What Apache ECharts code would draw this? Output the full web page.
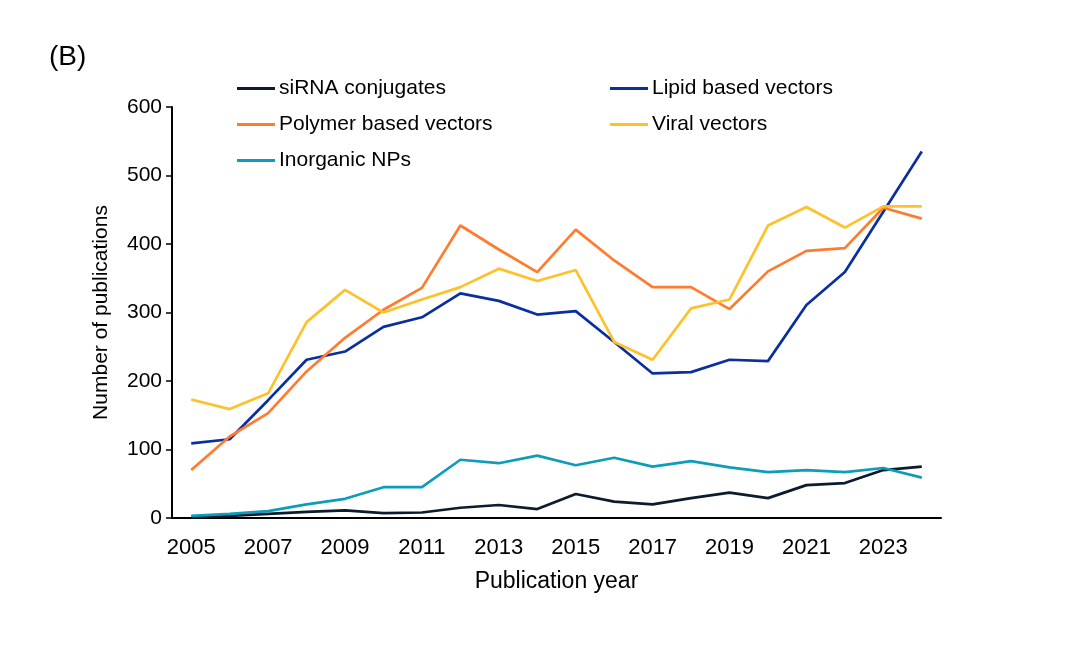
<!DOCTYPE html>
<html>
<head>
<meta charset="utf-8">
<script src="https://cdn.jsdelivr.net/npm/echarts@6/dist/echarts.min.js"></script>
<style>
  html, body { margin: 0; padding: 0; background: #fff; }
  #chart { width: 1080px; height: 648px; }
</style>
</head>
<body>
<div id="chart"></div>
<script>
const years = ['2005','2006','2007','2008','2009','2010','2011','2012','2013','2014',
               '2015','2016','2017','2018','2019','2020','2021','2022','2023','2024'];

const sirna     = [1, 3, 6, 9, 11, 7, 8, 15, 19, 13, 35, 24, 20, 29, 37, 29, 48, 51, 70, 75];
const lipid     = [109, 115, 172, 231, 243, 279, 293, 328, 317, 297, 302, 257, 211, 213, 231, 229, 311, 359, 447, 535];
const polymer   = [70, 119, 153, 214, 263, 304, 336, 427, 392, 359, 421, 376, 337, 337, 305, 360, 390, 394, 453, 437];
const viral     = [173, 159, 182, 286, 333, 300, 319, 337, 364, 346, 362, 257, 231, 306, 319, 427, 454, 424, 455, 455];
const inorganic = [3, 6, 10, 20, 28, 45, 45, 85, 80, 91, 77, 88, 75, 83, 74, 67, 70, 67, 73, 59];

const seriesDefs = [
  { name: 'siRNA conjugates',       data: sirna,     color: '#0c1c2e' },
  { name: 'Lipid based vectors',    data: lipid,     color: '#0a2f9e' },
  { name: 'Polymer based vectors',  data: polymer,   color: '#ff7b2e' },
  { name: 'Viral vectors',          data: viral,     color: '#ffc12b' },
  { name: 'Inorganic NPs',          data: inorganic, color: '#0e9cbb' }
];

// legend placement: two columns, three rows
const legendPos = [
  { left: 232, top: 73 },
  { left: 605, top: 73 },
  { left: 232, top: 109 },
  { left: 605, top: 109 },
  { left: 232, top: 145 }
];

const font = 'Liberation Sans, Arial, sans-serif';

const chart = echarts.init(document.getElementById('chart'));
chart.setOption({
  animation: false,
  backgroundColor: '#fff',
  title: {
    text: '(B)', left: 44, top: 38,
    textStyle: { fontSize: 28, fontWeight: 'normal', color: '#000', fontFamily: font }
  },
  legend: seriesDefs.map((s, i) => ({
    data: [s.name],
    left: legendPos[i].left, top: legendPos[i].top,
    itemWidth: 38, itemHeight: 3, itemGap: 0,
    icon: 'rect',
    textStyle: { fontSize: 21, color: '#000', fontFamily: font, padding: [0, 0, 0, -1] }
  })),
  grid: { left: 172, right: 139, top: 107, bottom: 130 },
  xAxis: {
    type: 'category',
    data: years,
    boundaryGap: true,
    name: 'Publication year',
    nameLocation: 'middle',
    nameGap: 52,
    nameTextStyle: { fontSize: 23, color: '#000', fontFamily: font },
    axisLine: { lineStyle: { color: '#000', width: 2 } },
    axisTick: { alignWithLabel: true, interval: 0, length: 6, lineStyle: { color: '#000', width: 1.5 } },
    axisLabel: { interval: 1, fontSize: 22, color: '#000', fontFamily: font, margin: 19 }
  },
  yAxis: {
    type: 'value',
    min: 0, max: 600, interval: 100,
    name: 'Number of publications',
    nameLocation: 'middle',
    nameGap: 60,
    nameTextStyle: { fontSize: 21, color: '#000', fontFamily: font },
    axisLine: { show: true, lineStyle: { color: '#000', width: 2 } },
    axisTick: { show: true, length: 6, lineStyle: { color: '#000', width: 1.5 } },
    axisLabel: { fontSize: 21, color: '#000', fontFamily: font, margin: 10 },
    splitLine: { show: false }
  },
  series: seriesDefs.map(s => ({
    name: s.name,
    type: 'line',
    data: s.data,
    symbol: 'none',
    color: s.color,
    lineStyle: { color: s.color, width: 2.7 }
  }))
});
</script>
</body>
</html>
